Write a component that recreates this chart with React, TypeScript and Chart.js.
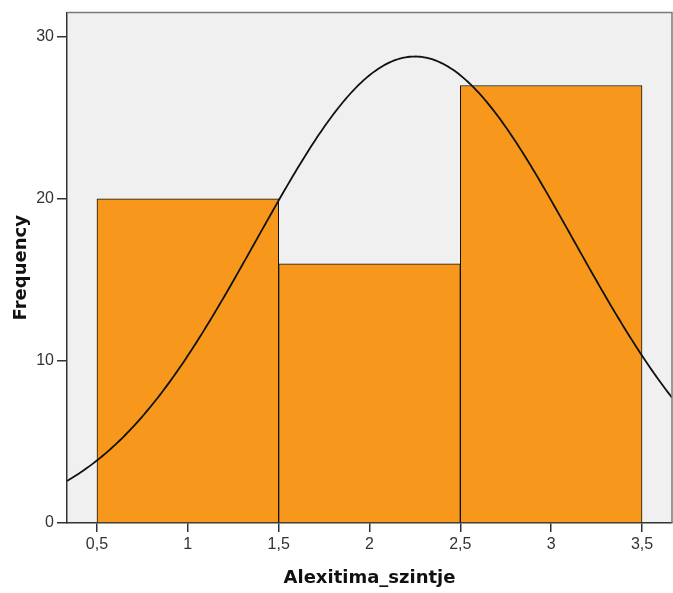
import React, { useEffect, useRef } from "react";
import { Chart, registerables } from "chart.js";

Chart.register(...registerables);

const binCenters = [1, 2, 3];
const frequencies = [20, 16, 27];
const xTickValues = [0.5, 1, 1.5, 2, 2.5, 3, 3.5];
const yTickValues = [0, 10, 20, 30];
const curveMean = 2.25;
const curveSd = 0.873;
const curveN = 63;
const binWidth = 1;
const xMin = 0.335;
const xMax = 3.665;
const yMax = 31.5;

function normalCurve(): { x: number; y: number }[] {
  const pts: { x: number; y: number }[] = [];
  const steps = 300;
  for (let i = 0; i <= steps; i++) {
    const x = xMin + ((xMax - xMin) * i) / steps;
    const z = (x - curveMean) / curveSd;
    const y = (curveN * binWidth) / (curveSd * Math.sqrt(2 * Math.PI)) * Math.exp(-0.5 * z * z);
    pts.push({ x, y });
  }
  return pts;
}

const framePlugin = {
  id: "frame",
  beforeDraw(chart: any) {
    const { ctx, chartArea } = chart;
    ctx.save();
    ctx.fillStyle = "#f0f0f0";
    ctx.fillRect(chartArea.left, chartArea.top, chartArea.right - chartArea.left, chartArea.bottom - chartArea.top);
    ctx.restore();
  },
  afterDraw(chart: any) {
    const { ctx, chartArea } = chart;
    ctx.save();
    ctx.strokeStyle = "#7a7a7a";
    ctx.lineWidth = 1.5;
    ctx.beginPath();
    ctx.moveTo(chartArea.left, chartArea.top);
    ctx.lineTo(chartArea.right, chartArea.top);
    ctx.lineTo(chartArea.right, chartArea.bottom);
    ctx.stroke();
    ctx.restore();
  },
};

export default function App() {
  const ref = useRef<HTMLCanvasElement | null>(null);
  useEffect(() => {
    if (!ref.current) return;
    const chart = new Chart(ref.current, {
      type: "bar",
      data: {
        datasets: [
          {
            type: "line",
            xAxisID: "x",
            data: normalCurve(),
            borderColor: "#111111",
            borderWidth: 1.8,
            pointRadius: 0,
            fill: false,
            tension: 0,
            order: 0,
          } as any,
          {
            type: "bar",
            xAxisID: "xb",
            data: binCenters.map((c, i) => ({ x: c, y: frequencies[i] })),
            backgroundColor: "#f7981d",
            borderColor: "#111111",
            borderWidth: 1,
            barPercentage: 1,
            categoryPercentage: 1,
            grouped: false,
            order: 1,
          } as any,
        ],
      },
      options: {
        animation: false,
        responsive: false,
        maintainAspectRatio: false,
        layout: { padding: { left: 0, top: 11, right: 1, bottom: 0 } },
        plugins: { legend: { display: false }, tooltip: { enabled: false } },
        scales: {
          xb: {
            type: "linear",
            display: false,
            position: "bottom",
            offset: false,
            min: xMin,
            max: xMax,
            afterBuildTicks: (scale: any) => {
              scale.ticks = binCenters.map((v) => ({ value: v }));
            },
            grid: { offset: false },
          },
          x: {
            type: "linear",
            position: "bottom",
            offset: false,
            min: xMin,
            max: xMax,
            afterBuildTicks: (scale: any) => {
              scale.ticks = xTickValues.map((v) => ({ value: v }));
            },
            afterFit: (scale: any) => {
              scale.height = 70;
            },
            ticks: {
              color: "#333333",
              font: { family: "Liberation Sans", size: 16 },
              padding: 3,
              maxRotation: 0,
              autoSkip: false,
              callback: (v: any) => String(v).replace(".", ","),
            },
            grid: { offset: false, drawOnChartArea: false, drawTicks: true, tickLength: 9, color: "#333333", lineWidth: 1.5 },
            border: { display: true, color: "#333333", width: 1.5 },
            title: {
              display: true,
              text: "Alexitima_szintje",
              color: "#111111",
              font: { family: "DejaVu Sans", size: 18, weight: "bold" },
              padding: { top: 0, bottom: 4 },
            },
          },
          y: {
            type: "linear",
            min: 0,
            max: yMax,
            afterBuildTicks: (scale: any) => {
              scale.ticks = yTickValues.map((v) => ({ value: v }));
            },
            afterFit: (scale: any) => {
              scale.width = 67;
            },
            ticks: {
              color: "#333333",
              font: { family: "Liberation Sans", size: 16 },
              padding: 3,
            },
            grid: { drawOnChartArea: false, drawTicks: true, tickLength: 10, color: "#333333", lineWidth: 1.5 },
            border: { display: true, color: "#333333", width: 1.5 },
            title: {
              display: true,
              text: "Frequency",
              color: "#111111",
              font: { family: "DejaVu Sans", size: 18, weight: "bold" },
              padding: { top: 11, bottom: 0 },
            },
          },
        },
      } as any,
      plugins: [framePlugin],
    });
    return () => chart.destroy();
  }, []);
  return (
    <div style={{ position: "fixed", left: 0, top: 0, width: 673, height: 593, background: "#ffffff" }}>
      <canvas ref={ref} width={673} height={593} style={{ width: 673, height: 593, display: "block" }} />
    </div>
  );
}
